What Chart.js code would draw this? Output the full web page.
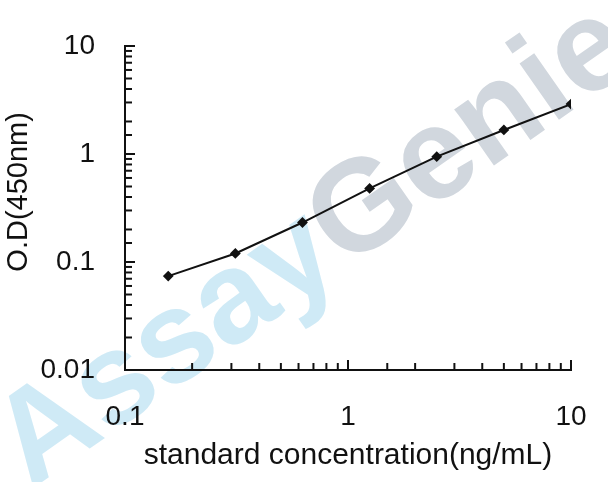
<!DOCTYPE html>
<html>
<head>
<meta charset="utf-8">
<script src="https://cdn.jsdelivr.net/npm/chart.js@4/dist/chart.umd.min.js"></script>
<style>
html,body{margin:0;padding:0;background:#fff;}
#wrap{width:608px;height:482px;}
</style>
</head>
<body>
<div id="wrap"><canvas id="c" width="608" height="482"></canvas></div>
<script>
const concentrations = [0.15625, 0.3125, 0.625, 1.25, 2.5, 5, 10];
const odValues = [0.074, 0.120, 0.232, 0.480, 0.945, 1.67, 2.90];
const xTickLabels = ['0.1', '1', '10'];
const yTickLabels = ['0.01', '0.1', '1', '10'];
const xTitle = 'standard concentration(ng/mL)';
const yTitle = 'O.D(450nm)';
const watermarkParts = ['Assay', 'Genie'];

const FONT = "'Liberation Sans', Arial, sans-serif";

function isPow10(v){ const l = Math.log10(v); return Math.abs(l - Math.round(l)) < 1e-9; }
function fmt(v){ return parseFloat(v.toPrecision(6)).toString(); }

const watermark = {
  id: 'watermark',
  beforeDraw(chart){
    const ctx = chart.ctx;
    ctx.save();
    ctx.font = "bold 130px " + FONT;
    const w1 = ctx.measureText(watermarkParts[0]).width;
    const w2 = ctx.measureText(watermarkParts[1]).width;
    ctx.translate(315, 247);
    ctx.rotate(-35 * Math.PI / 180);
    ctx.textBaseline = 'middle';
    ctx.textAlign = 'left';
    const start = -(w1 + w2) / 2;
    ctx.fillStyle = '#cfeaf6';
    ctx.fillText(watermarkParts[0], start, 0);
    ctx.fillStyle = '#d1d7de';
    ctx.fillText(watermarkParts[1], start + w1, 0);
    ctx.restore();
  }
};

const inwardTicks = {
  id: 'inwardTicks',
  afterDraw(chart){
    const ctx = chart.ctx;
    const xs = chart.scales.x, ys = chart.scales.y;
    const a = chart.chartArea;
    ctx.save();
    ctx.strokeStyle = '#111';
    ctx.lineWidth = 2;
    xs.ticks.forEach(t => {
      const px = xs.getPixelForValue(t.value);
      const len = isPow10(t.value) ? 10 : 7;
      ctx.beginPath(); ctx.moveTo(px, a.bottom); ctx.lineTo(px, a.bottom - len); ctx.stroke();
    });
    ys.ticks.forEach(t => {
      const py = ys.getPixelForValue(t.value);
      const len = isPow10(t.value) ? 10 : 7;
      ctx.beginPath(); ctx.moveTo(a.left, py); ctx.lineTo(a.left + len, py); ctx.stroke();
    });
    ctx.restore();
  }
};

new Chart(document.getElementById('c'), {
  type: 'line',
  data: {
    datasets: [{
      data: concentrations.map((x, i) => ({x: x, y: odValues[i]})),
      borderColor: '#111',
      backgroundColor: '#111',
      borderWidth: 2,
      pointStyle: 'rectRot',
      pointRadius: 4,
      pointBackgroundColor: '#111',
      pointBorderColor: '#111',
      tension: 0,
      fill: false
    }]
  },
  options: {
    responsive: false,
    animation: false,
    devicePixelRatio: 1,
    layout: { padding: { top: 46, right: 37, left: 0, bottom: 0 } },
    plugins: { legend: { display: false }, tooltip: { enabled: false } },
    scales: {
      x: {
        type: 'logarithmic',
        min: 0.1, max: 10,
        grid: { display: false, drawTicks: true, tickLength: 30 },
        border: { display: true, color: '#111', width: 2 },
        ticks: {
          autoSkip: false, maxRotation: 0, padding: 0,
          color: '#111', font: { family: FONT, size: 28 },
          callback: (v) => { const s = fmt(v); return xTickLabels.includes(s) ? s : ''; }
        },
        title: { display: true, text: xTitle, color: '#111', font: { family: FONT, size: 30 }, padding: { top: 0, bottom: 8 } },
        afterFit: (s) => { s.height = 112; }
      },
      y: {
        type: 'logarithmic',
        min: 0.01, max: 10,
        grid: { display: false, drawTicks: true, tickLength: 30 },
        border: { display: true, color: '#111', width: 2 },
        ticks: {
          autoSkip: false, padding: 0,
          color: '#111', font: { family: FONT, size: 28 },
          callback: (v) => { const s = fmt(v); return yTickLabels.includes(s) ? s : ''; }
        },
        title: { display: true, text: '    ' + yTitle, color: '#111', font: { family: FONT, size: 29 }, padding: { top: 2, bottom: 0 } },
        afterFit: (s) => { s.width = 125; }
      }
    }
  },
  plugins: [watermark, inwardTicks]
});
</script>
</body>
</html>
